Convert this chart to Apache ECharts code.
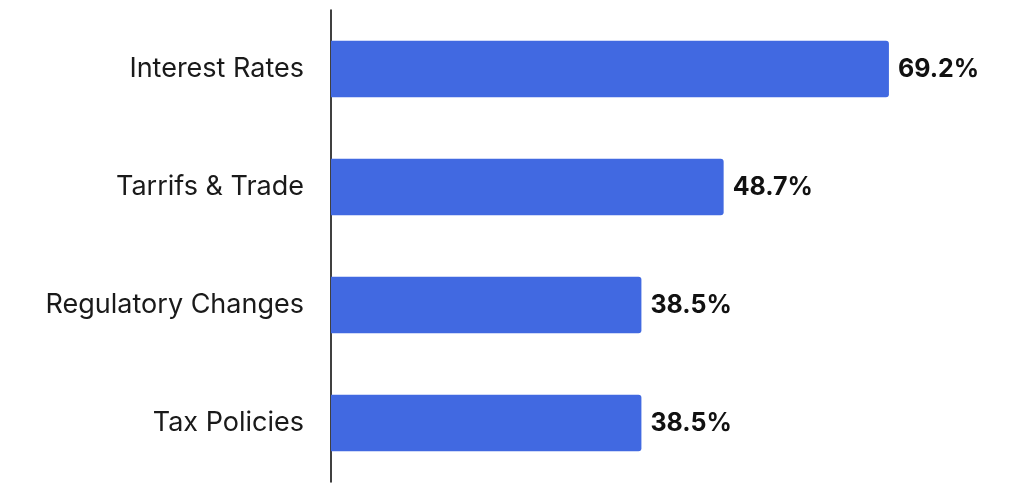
<!DOCTYPE html>
<html>
<head>
<meta charset="utf-8">
<script src="https://cdn.jsdelivr.net/npm/echarts@6/dist/echarts.min.js"></script>
<style>
html,body{margin:0;padding:0;background:#fff;}
#chart{width:1024px;height:495px;}
</style>
</head>
<body>
<div id="chart"></div>
<script>
const categories = ["Interest Rates", "Tarrifs & Trade", "Regulatory Changes", "Tax Policies"];
const values = [69.2, 48.7, 38.5, 38.5];

const chart = echarts.init(document.getElementById('chart'));
chart.setOption({
  animation: false,
  grid: { left: 331, top: 10, width: 645, height: 472, containLabel: false },
  xAxis: {
    type: 'value', min: 0, max: 80, show: false
  },
  yAxis: {
    type: 'category',
    inverse: true,
    data: categories,
    axisLine: { show: true, lineStyle: { color: '#000', width: 1.5 } },
    axisTick: { show: false },
    axisLabel: { fontFamily: 'Inter', fontSize: 27, color: '#1a1a1a', margin: 27 }
  },
  series: [{
    type: 'bar',
    data: values,
    barCategoryGap: '52%',
    itemStyle: { color: '#4169E1', borderRadius: [0, 3, 3, 0] },
    label: {
      show: true, position: 'right', distance: 9,
      formatter: p => p.value.toFixed(1) + '%',
      fontFamily: 'Inter', fontSize: 25, fontWeight: 'bold', color: '#111'
    }
  }]
});
</script>
</body>
</html>
